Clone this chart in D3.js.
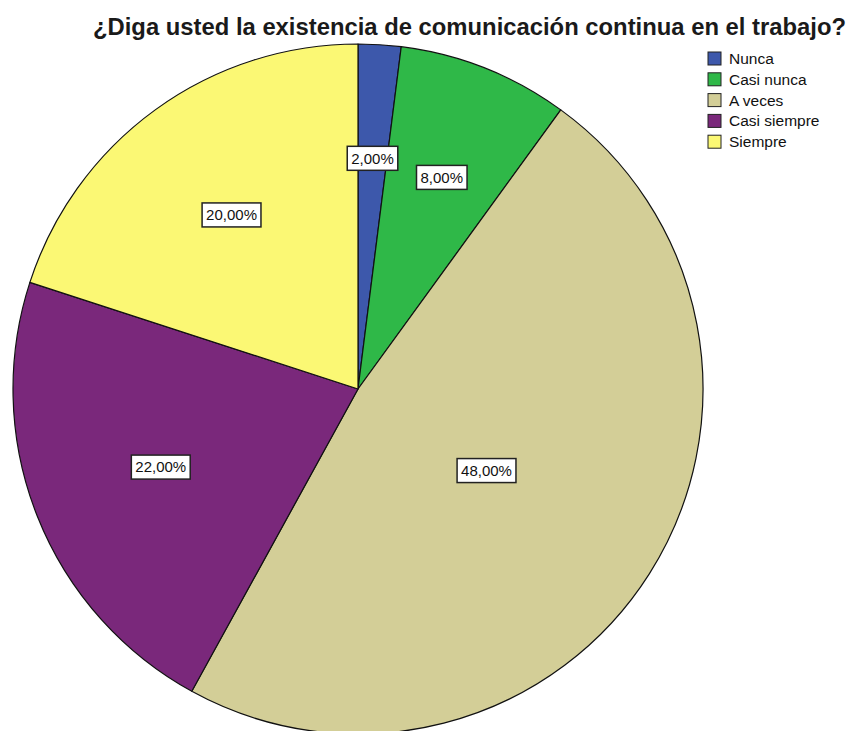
<!DOCTYPE html>
<html>
<head>
<meta charset="utf-8">
<script src="https://cdn.jsdelivr.net/npm/d3@7/dist/d3.min.js"></script>
<style>
  html, body { margin: 0; padding: 0; background: #ffffff; }
  svg { display: block; font-family: "Liberation Sans", Arial, sans-serif; }
</style>
</head>
<body>
<svg id="chart" width="849" height="731"></svg>
<script>
// Survey answers and their shares (percent)
const categories = ["Nunca", "Casi nunca", "A veces", "Casi siempre", "Siempre"];
const percents = [2, 8, 48, 22, 20];
const colors = ["#3d58ab", "#2fb848", "#d3ce97", "#7a287b", "#fbf874"];
const title = "¿Diga usted la existencia de comunicación continua en el trabajo?";

const svg = d3.select("#chart");
const cx = 358, cy = 389, radius = 345;

svg.append("text")
  .attr("x", 93).attr("y", 35)
  .attr("font-size", 23)
  .attr("font-weight", "bold")
  .attr("fill", "#1a1a1a")
  .attr("textLength", 753)
  .attr("lengthAdjust", "spacingAndGlyphs")
  .text(title);

const data = categories.map((c, i) => ({ name: c, value: percents[i], color: colors[i] }));

const pie = d3.pie().value(d => d.value).sort(null);
const arcs = pie(data);
const arc = d3.arc().innerRadius(0).outerRadius(radius);

const g = svg.append("g").attr("transform", `translate(${cx},${cy})`);

g.selectAll("path.slice")
  .data(arcs)
  .join("path")
  .attr("class", "slice")
  .attr("d", arc)
  .attr("fill", d => d.data.color)
  .attr("stroke", "#111")
  .attr("stroke-width", 1.2)
  .attr("stroke-linejoin", "round");

// Labels at the geometric centroid of each sector
const fmt = v => v.toFixed(2).replace(".", ",") + "%";
arcs.forEach(a => {
  const span = a.endAngle - a.startAngle;
  const mid = (a.startAngle + a.endAngle) / 2;
  const dist = span < 0.2 ? radius * 0.67 : (4 * radius * Math.sin(span / 2)) / (3 * span);
  const x = Math.sin(mid) * dist;
  const y = -Math.cos(mid) * dist;
  const lg = g.append("g").attr("transform", `translate(${x},${y})`);
  const t = lg.append("text")
    .attr("text-anchor", "middle")
    .attr("dy", "0.36em")
    .attr("font-size", 15)
    .attr("fill", "#111")
    .text(fmt(a.data.value));
  const bb = t.node().getBBox();
  lg.insert("rect", "text")
    .attr("x", bb.x - 4).attr("y", -12)
    .attr("width", bb.width + 8).attr("height", 24)
    .attr("fill", "#fff")
    .attr("stroke", "#222")
    .attr("stroke-width", 1.5);
});

// Legend
const legend = svg.append("g").attr("transform", "translate(708,52)");
const rows = legend.selectAll("g")
  .data(data)
  .join("g")
  .attr("transform", (d, i) => `translate(0,${i * 20.8})`);
rows.append("rect")
  .attr("width", 13).attr("height", 13)
  .attr("fill", d => d.color)
  .attr("stroke", "#222")
  .attr("stroke-width", 1);
rows.append("text")
  .attr("x", 21).attr("y", 6.5)
  .attr("dy", "0.36em")
  .attr("font-size", 15.5)
  .attr("fill", "#111")
  .text(d => d.name);
</script>
</body>
</html>
